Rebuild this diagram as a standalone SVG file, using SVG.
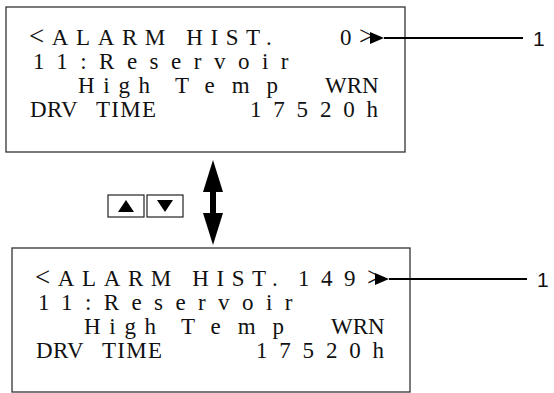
<svg xmlns="http://www.w3.org/2000/svg" width="554" height="393" viewBox="0 0 554 393">
<style>
.box{fill:#fff;stroke:#333;stroke-width:1.3}
.t{font-family:'Liberation Serif',serif;font-size:23px;fill:#111}
.cmp{font-size:27px}
.lbl{font-family:'Liberation Sans',Arial,sans-serif;font-size:21px;fill:#111}
.ln{stroke:#000;stroke-width:2.2;fill:none}
.key{fill:#fff;stroke:#222;stroke-width:1.2}
</style>
<defs>
<marker id="ah" viewBox="0 0 14 12" refX="0" refY="6" markerWidth="14" markerHeight="12" markerUnits="userSpaceOnUse" orient="auto-start-reverse"><path d="M0,6 L14,0 L14,12 Z" fill="#000"/></marker>
</defs>
<rect width="554" height="393" fill="#fff"/>
<g id="screen-top">
<rect class="box" x="6" y="7" width="399" height="145"/>
<text class="t" x="29" y="45" letter-spacing="7.6"><tspan class="cmp">&lt;</tspan>ALARM HIST.</text>
<text class="t" x="340" y="45" letter-spacing="7.5"><tspan>0</tspan><tspan class="cmp">&gt;</tspan></text>
<text class="t" x="33" y="69" letter-spacing="12.5">11:Reservoir</text>
<text class="t" x="78" y="93" letter-spacing="8.7">High</text>
<text class="t" x="175" y="93" letter-spacing="17">Temp</text>
<text class="t" x="325" y="93">WRN</text>
<text class="t" x="30" y="117" letter-spacing="0.5">DRV</text>
<text class="t" x="96" y="117" letter-spacing="1.3">TIME</text>
<text class="t" x="250" y="117" letter-spacing="11.8">17520h</text>
</g>
<g id="screen-bottom">
<rect class="box" x="12" y="248" width="398" height="144"/>
<text class="t" x="35" y="286" letter-spacing="7.6"><tspan class="cmp">&lt;</tspan>ALARM HIST.</text>
<text class="t" x="298" y="286" letter-spacing="11.5"><tspan>149</tspan><tspan class="cmp">&gt;</tspan></text>
<text class="t" x="38" y="310" letter-spacing="12.4">11:Reservoir</text>
<text class="t" x="84" y="334" letter-spacing="8.7">High</text>
<text class="t" x="181" y="334" letter-spacing="17">Temp</text>
<text class="t" x="331" y="334">WRN</text>
<text class="t" x="36" y="358" letter-spacing="0.5">DRV</text>
<text class="t" x="102" y="358" letter-spacing="1.3">TIME</text>
<text class="t" x="256" y="358" letter-spacing="11.8">17520h</text>
</g>
<g id="keys">
<rect class="key" x="108" y="195" width="36" height="22"/>
<rect class="key" x="147" y="195" width="36" height="22"/>
<path d="M126,200 L118,212 L134,212 Z" fill="#000"/>
<path d="M165,212 L157,200 L173,200 Z" fill="#000"/>
</g>
<g id="label-1-top"><text class="lbl" x="533" y="46">1</text></g>
<g id="label-1-bottom"><text class="lbl" x="537" y="287">1</text></g>
<g id="connectors">
<line class="ln" x1="523" y1="38" x2="384" y2="38" marker-end="url(#ah)"/>
<line class="ln" x1="527" y1="279" x2="389" y2="279" marker-end="url(#ah)"/>
<path d="M213,160 L223,192 L216,192 L216,213 L223,213 L213,245 L203,213 L210,213 L210,192 L203,192 Z" fill="#000"/>
</g>
</svg>
